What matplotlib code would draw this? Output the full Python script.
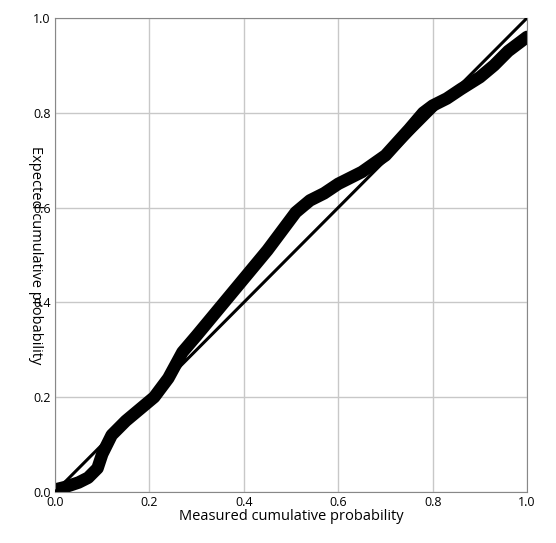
import matplotlib
matplotlib.use('Agg')
import matplotlib.pyplot as plt

measured = [0.0, 0.02, 0.05, 0.07, 0.09, 0.10, 0.12, 0.15, 0.18, 0.21, 0.24, 0.27, 0.30, 0.35,
            0.40, 0.45, 0.48, 0.51, 0.54, 0.57, 0.60, 0.65, 0.70, 0.75, 0.78, 0.80, 0.83,
            0.86, 0.90, 0.93, 0.96, 1.0]
expected = [0.005, 0.01, 0.02, 0.03, 0.05, 0.08, 0.12, 0.15, 0.175, 0.20, 0.24, 0.295, 0.33, 0.39,
            0.45, 0.51, 0.55, 0.59, 0.615, 0.63, 0.65, 0.675, 0.71, 0.765, 0.80, 0.815, 0.83,
            0.85, 0.875, 0.90, 0.93, 0.96]
ticks = [0.0, 0.2, 0.4, 0.6, 0.8, 1.0]

plt.rcParams['font.family'] = ['Open Sans', 'DejaVu Sans']
fig = plt.figure(figsize=(5.56, 5.43), dpi=100)
ax = fig.add_axes([0.099, 0.094, 0.849, 0.873])

ax.plot([0, 1], [0, 1], color='black', lw=2.2, zorder=3)
ax.plot(measured, expected, color='black', lw=9, solid_capstyle='round',
        solid_joinstyle='round', zorder=2)

ax.set_xlim(0, 1)
ax.set_ylim(0, 1)
ax.set_xticks(ticks)
ax.set_yticks(ticks)
ax.set_xticklabels(['%.1f' % t for t in ticks], fontsize=9)
ax.set_yticklabels(['%.1f' % t for t in ticks], fontsize=9)
ax.tick_params(length=0, pad=3)
ax.grid(True, color='#c8c8c8', lw=1)
ax.set_axisbelow(True)
for s in ax.spines.values():
    s.set_color('#888888')

ax.set_xlabel('Measured cumulative probability', fontsize=10.5, labelpad=0)
ax.set_ylabel('Expected cumulative probability', fontsize=10.5, rotation=-90,
              va='bottom', labelpad=4)

fig.savefig('out.png', dpi=100)
